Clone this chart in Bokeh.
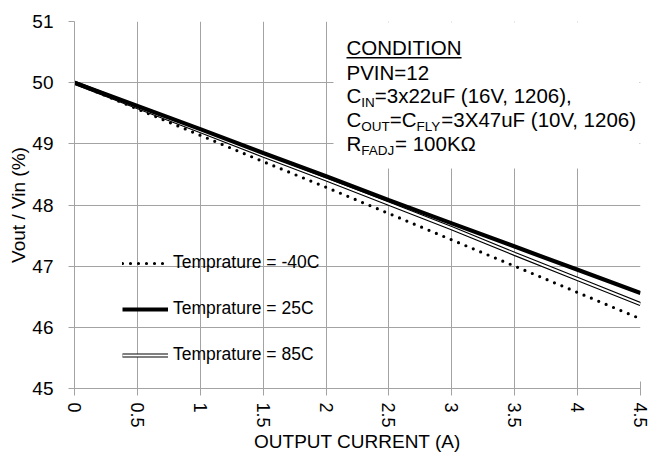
from bokeh.plotting import figure
from bokeh.models import (Range1d, FixedTicker, Legend, LegendItem, BoxAnnotation)
from bokeh.core.properties import value
from bokeh.embed import file_html
from bokeh.resources import INLINE

# ---------------- data ----------------
current = [0, 0.5, 1, 1.5, 2, 2.5, 3, 3.5, 4, 4.5]
t_m40 = [50.00, 49.57, 49.14, 48.71, 48.29, 47.86, 47.43, 47.00, 46.57, 46.14]
t_25 = [50.00, 49.62, 49.24, 48.85, 48.47, 48.08, 47.70, 47.32, 46.94, 46.56]
t_85 = [50.00, 49.60, 49.21, 48.81, 48.42, 48.02, 47.62, 47.20, 46.79, 46.38]
series_labels = ["Temprature = -40C", "Temprature = 25C", "Temprature = 85C"]
x_ticks = [0, 0.5, 1, 1.5, 2, 2.5, 3, 3.5, 4, 4.5]
x_tick_labels = ["0", "0.5", "1", "1.5", "2", "2.5", "3", "3.5", "4", "4.5"]
y_ticks = [45, 46, 47, 48, 49, 50, 51]
y_tick_labels = ["45", "46", "47", "48", "49", "50", "51"]

FONT = "Liberation Sans"
GRID = "#a3a3a3"
X0, X1, Y0, Y1 = 0, 4.5, 45, 51

p = figure(width=652, height=457, output_backend="svg", toolbar_location=None,
           x_range=Range1d(X0, X1), y_range=Range1d(Y0, Y1),
           min_border_left=74, min_border_top=21, min_border_right=12, min_border_bottom=69)
p.outline_line_color = None
p.background_fill_color = "white"

# grids
p.xgrid.ticker = FixedTicker(ticks=x_ticks)
p.ygrid.ticker = FixedTicker(ticks=y_ticks)
for g in (p.xgrid, p.ygrid):
    g.grid_line_color = GRID
    g.grid_line_width = 1

# x axis
xa = p.xaxis[0]
xa.ticker = FixedTicker(ticks=x_ticks)
xa.major_label_overrides = {t: l for t, l in zip(x_ticks, x_tick_labels)}
xa.major_label_orientation = "vertical"
xa.axis_label = "OUTPUT CURRENT (A)"
xa.major_tick_in = 7
xa.major_tick_out = 7
xa.minor_tick_line_color = None
xa.major_label_standoff = 7
xa.axis_label_standoff = 0

# y axis
ya = p.yaxis[0]
ya.ticker = FixedTicker(ticks=y_ticks)
ya.major_label_overrides = {t: l for t, l in zip(y_ticks, y_tick_labels)}
ya.axis_label = "Vout / Vin (%)"
ya.major_tick_in = 0
ya.major_tick_out = 6
ya.minor_tick_line_color = None
ya.major_label_standoff = 15
ya.axis_label_standoff = 0

for a in (xa, ya):
    a.axis_line_color = GRID
    a.major_tick_line_color = GRID
    a.major_label_text_font = FONT
    a.major_label_text_color = "black"
    a.axis_label_text_font = FONT
    a.axis_label_text_font_style = "normal"
    a.axis_label_text_color = "black"
    a.axis_label_text_font_size = "19px"
xa.major_label_text_font_size = "18px"
ya.major_label_text_font_size = "19px"

# frame geometry on the page (used only to place the annotation text)
FL, FR, FT, FB = 74, 640, 21, 388


def dx(px):
    return X0 + (px - FL) * (X1 - X0) / (FR - FL)


def dy(py):
    return Y1 - (py - FT) * (Y1 - Y0) / (FB - FT)


# white box behind the condition text (covers the grid there)
p.add_layout(BoxAnnotation(left=dx(333), right=dx(639), top=dy(21.8), bottom=dy(168),
                           fill_color="white", fill_alpha=1.0, line_color=None,
                           level="underlay"))

# series
r_m40 = p.line(current, t_m40, line_color="black", line_width=3.2,
               line_dash="0 8", line_cap="round")
r_85o = p.line(current, t_85, line_color="black", line_width=4.2)
r_85i = p.line(current, t_85, line_color="white", line_width=2.0)
r_25 = p.line(current, t_25, line_color="black", line_width=4.2)

legend = Legend(items=[
    LegendItem(label=series_labels[0], renderers=[r_m40]),
    LegendItem(label=series_labels[1], renderers=[r_25]),
    LegendItem(label=series_labels[2], renderers=[r_85o, r_85i]),
], location=(48, 23), orientation="vertical")
legend.glyph_width = 46
legend.glyph_height = 20
legend.label_height = 20
legend.label_standoff = 5
legend.spacing = 25
legend.padding = 0
legend.margin = 0
legend.border_line_color = None
legend.background_fill_alpha = 0
legend.label_text_font = FONT
legend.label_text_font_size = "17.5px"
legend.label_text_color = "black"
p.add_layout(legend, "center")

# ---- condition text with subscripts ----
ADV = {'A': .667, 'B': .667, 'C': .722, 'D': .722, 'E': .667, 'F': .611, 'I': .278,
       'J': .5, 'K': .667, 'L': .556, 'N': .722, 'O': .778, 'P': .667, 'R': .722,
       'T': .611, 'U': .722, 'V': .667, 'X': .667, 'Y': .667, '=': .584, ' ': .278,
       '(': .333, ')': .333, ',': .278, 'u': .556, 'x': .5, '\u03a9': .768}


def width(s, size):
    return sum(ADV.get(c, .556) for c in s) * size


MAIN, SUB = 20.5, 13.5
SUB_DROP = 4.0
BASE_FIX = 0.37  # renderer draws text ~0.37 em below the requested y


def put(s, px, py, size):
    p.text(x=[dx(px)], y=[dy(py - BASE_FIX * size)], text=[s], text_font=value(FONT),
           text_font_size=value(f"{size}px"), text_color="black",
           text_align="left", text_baseline="alphabetic")


def rich(parts, px, py):
    """parts: list of (text, is_subscript)"""
    x = px
    for s, sub in parts:
        size = SUB if sub else MAIN
        put(s, x, py + (SUB_DROP if sub else 0), size)
        x += width(s, size)


LX = 346
put("CONDITION", LX, 55, MAIN)
p.add_layout(BoxAnnotation(left=dx(LX), right=dx(LX + width("CONDITION", MAIN)),
                           top=dy(56.4), bottom=dy(58.0),
                           fill_color="black", fill_alpha=1.0, line_color=None))
put("PVIN=12", LX, 79.5, MAIN)
rich([("C", False), ("IN", True), ("=3x22uF (16V, 1206),", False)], LX, 103)
rich([("C", False), ("OUT", True), ("=C", False), ("FLY", True),
      ("=3X47uF (10V, 1206)", False)], LX, 127)
rich([("R", False), ("FADJ", True), ("= 100K\u03a9", False)], LX, 150.5)

open("out.html", "w").write(file_html(p, INLINE))
